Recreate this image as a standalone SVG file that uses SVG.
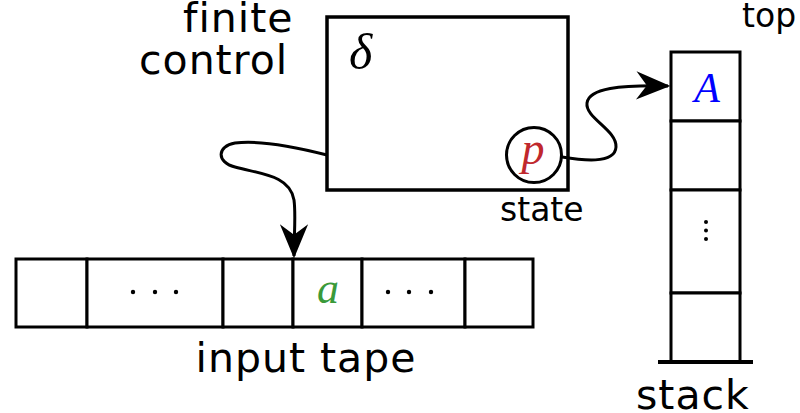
<svg xmlns="http://www.w3.org/2000/svg" width="800" height="413" viewBox="0 0 800 413">
<style>
.box{fill:#fff;stroke:#000;stroke-width:3.5}
.cell{fill:#fff;stroke:#000;stroke-width:3}
.lbl{font-family:"DejaVu Sans",sans-serif;fill:#000}
.big{font-size:41px;letter-spacing:1px}
.small{font-size:33px}
.math{font-family:"Liberation Serif","DejaVu Serif",serif;font-style:italic}
.conn{fill:none;stroke:#000;stroke-width:3}
.dot{fill:#000}
</style>
<defs>
<marker id="stealth" markerUnits="userSpaceOnUse" markerWidth="40" markerHeight="40" refX="0" refY="0" viewBox="-30 -15 34 30" orient="auto" overflow="visible">
<path d="M2,0 L-27,-12 L-18,0 L-27,12 Z" fill="#000"/>
</marker>
</defs>
<rect width="800" height="413" fill="#fff"/>

<g id="finite-control">
<rect class="box" x="327" y="17" width="241" height="173"/>
<text class="math" x="349" y="69" font-size="50" fill="#000">δ</text>
<text class="lbl big" x="183" y="32">finite</text>
<text class="lbl big" x="139" y="74">control</text>
</g>

<g id="state">
<circle cx="534" cy="155" r="27.5" fill="#fff" stroke="#000" stroke-width="3"/>
<text class="math" x="533" y="164" font-size="46" fill="#c0282d" text-anchor="middle">p</text>
<text class="lbl small" x="500" y="221">state</text>
</g>

<g id="input-tape">
<rect class="cell" x="16" y="259" width="71" height="68"/>
<rect class="cell" x="87" y="259" width="136" height="68"/>
<rect class="cell" x="223" y="259" width="70" height="68"/>
<rect class="cell" x="293" y="259" width="69" height="68"/>
<rect class="cell" x="362" y="259" width="103" height="68"/>
<rect class="cell" x="465" y="259" width="68" height="68"/>
<circle class="dot" cx="133" cy="292" r="2.2"/>
<circle class="dot" cx="155" cy="292" r="2.2"/>
<circle class="dot" cx="176" cy="292" r="2.2"/>
<text class="math" x="328" y="303" font-size="44" fill="#3a9a3a" text-anchor="middle">a</text>
<circle class="dot" cx="388" cy="292" r="2.2"/>
<circle class="dot" cx="409" cy="292" r="2.2"/>
<circle class="dot" cx="431" cy="292" r="2.2"/>
<text class="lbl big" x="306" y="372" text-anchor="middle">input tape</text>
</g>

<g id="stack">
<rect class="cell" x="671" y="52" width="69" height="69"/>
<rect class="cell" x="671" y="121" width="69" height="69"/>
<rect class="cell" x="671" y="190" width="69" height="103"/>
<rect class="cell" x="671" y="293" width="69" height="69"/>
<line x1="658" y1="362" x2="753" y2="362" stroke="#000" stroke-width="4"/>
<text class="math" x="707" y="102" font-size="42" fill="#0000ff" text-anchor="middle">A</text>
<circle class="dot" cx="706" cy="222" r="2"/>
<circle class="dot" cx="706" cy="230.5" r="2"/>
<circle class="dot" cx="706" cy="239" r="2"/>
<text class="lbl small" x="742" y="27">top</text>
<text class="lbl big" x="636" y="409">stack</text>
</g>

<g id="connectors">
<path class="conn" d="M327,155 C300,148 260,140 235,143 C217,146 216,162 235,167 C260,174 290,175 294,200 C296,215 294,235 294,256" marker-end="url(#stealth)"/>
<path class="conn" d="M562,157 C580,160 615,165 616,147 C617,130 585,118 587,103 C589,88 620,85 668,86" marker-end="url(#stealth)"/>
</g>
</svg>
